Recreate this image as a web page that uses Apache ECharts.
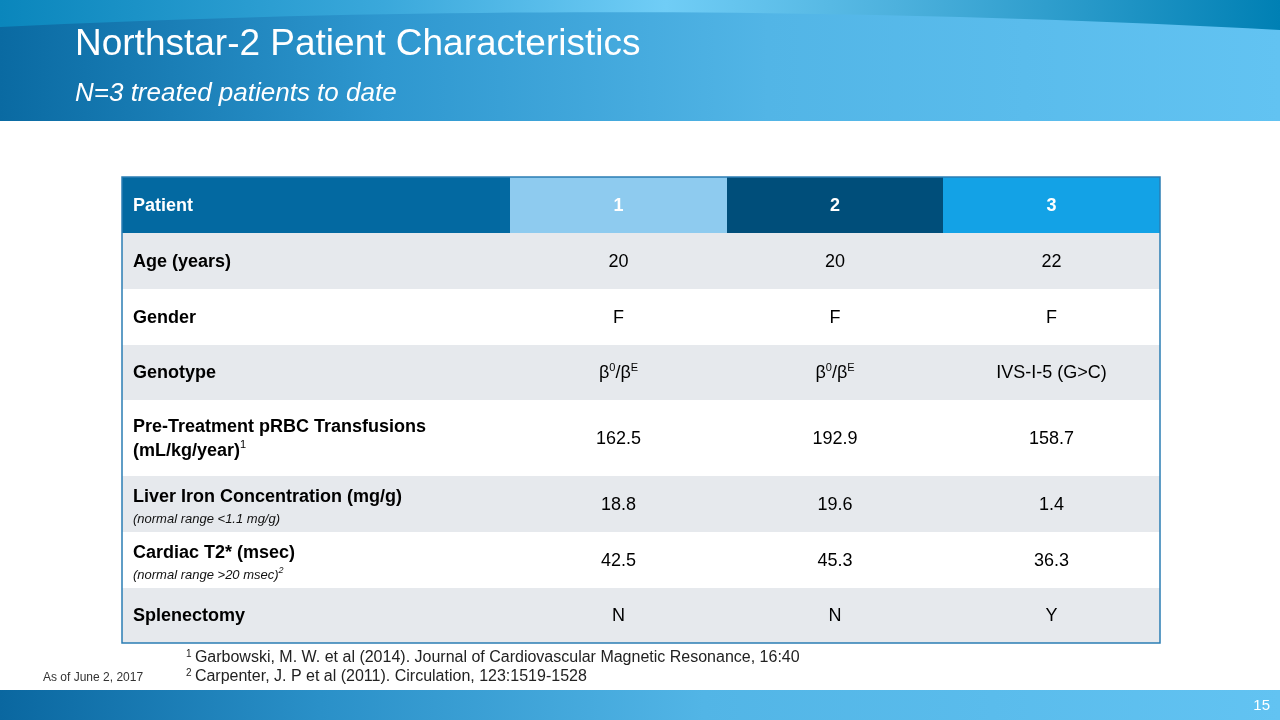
<!DOCTYPE html>
<html>
<head>
<meta charset="utf-8">
<script src="https://cdn.jsdelivr.net/npm/echarts@6/dist/echarts.min.js"></script>
<style>
html,body{margin:0;padding:0;background:#fff;}
#main{width:1280px;height:720px;}
</style>
</head>
<body>
<div id="main"></div>
<script>
// ---- data ----
var patients = ['1', '2', '3'];
var rowLabels = [
  'Age (years)',
  'Gender',
  'Genotype',
  'Pre-Treatment pRBC Transfusions (mL/kg/year)',
  'Liver Iron Concentration (mg/g)',
  'Cardiac T2* (msec)',
  'Splenectomy'
];
var rowNotes = ['', '', '', '', '(normal range <1.1 mg/g)', '(normal range >20 msec)', ''];
var ages = ['20', '20', '22'];
var genders = ['F', 'F', 'F'];
var genotypes = ['β0/βE', 'β0/βE', 'IVS-I-5 (G>C)'];
var transfusions = ['162.5', '192.9', '158.7'];
var liverIron = ['18.8', '19.6', '1.4'];
var cardiacT2 = ['42.5', '45.3', '36.3'];
var splenectomy = ['N', 'N', 'Y'];
var footnotes = [
  'Garbowski, M. W. et al (2014). Journal of Cardiovascular Magnetic Resonance, 16:40',
  'Carpenter, J. P et al (2011). Circulation, 123:1519-1528'
];

// ---- layout (sizes / styles) ----
var colWidths = [388, 217, 216, 217];
var rowHeights = [56, 56, 56, 55, 76, 56, 56, 55];
var headerFills = ['#0369a1', '#8ecbef', '#004e7a', '#13a2e6'];
var greyFill = '#e6e9ed';
var SANS = "'Liberation Sans', Arial, sans-serif";

function edges(arr) { var e = [0]; arr.forEach(function (w) { e.push(e[e.length - 1] + w); }); return e; }
var colE = edges(colWidths), rowE = edges(rowHeights);

function lin(stops) {
  return { type: 'linear', x: 0, y: 0, x2: 1, y2: 0, colorStops: stops };
}

function supify(s) {
  var m = s.match(/^β(\w)\/β(\w)$/);
  if (m) return '{v|β}{sup|' + m[1] + '}{v|/β}{sup|' + m[2] + '}';
  return '{v|' + s + '}';
}

var valueRows = [ages, genders, genotypes, transfusions, liverIron, cardiacT2, splenectomy];
var cells = [];
cells.push({ c: 0, r: 0, text: '{h|Patient}', fill: headerFills[0], left: true, dy: 1 });
patients.forEach(function (p, i) {
  cells.push({ c: i + 1, r: 0, text: '{h|' + p + '}', fill: headerFills[i + 1], dy: 1 });
});
rowLabels.forEach(function (lab, k) {
  var r = k + 1;
  var fill = (k % 2 === 0) ? greyFill : '#ffffff';
  var t;
  if (k === 3) {
    t = '{b|Pre-Treatment pRBC Transfusions}\n{b|(mL/kg/year)}{bsup|1}';
  } else if (rowNotes[k]) {
    t = '{b|' + lab + '}\n{n|' + rowNotes[k] + '}' + (k === 5 ? '{nsup|2}' : '');
  } else {
    t = '{b|' + lab + '}';
  }
  cells.push({ c: 0, r: r, text: t, fill: fill, left: true, dy: rowNotes[k] ? 3 : 1 });
  valueRows[k].forEach(function (v, i) {
    cells.push({ c: i + 1, r: r, text: supify(v), fill: fill, dy: 1 });
  });
});

var seriesData = cells.map(function (cell) {
  return [colE[cell.c], rowE[cell.r], colE[cell.c + 1], rowE[cell.r + 1]];
});

var rich = {
  h: { fontFamily: SANS, fontSize: 18, fontWeight: 'bold', fill: '#ffffff', lineHeight: 22 },
  b: { fontFamily: SANS, fontSize: 18, fontWeight: 'bold', fill: '#000000', lineHeight: 24 },
  bsup: { fontFamily: SANS, fontSize: 11, fill: '#000000', verticalAlign: 'top', lineHeight: 24 },
  n: { fontFamily: SANS, fontSize: 13, fontStyle: 'italic', fill: '#111111', lineHeight: 19 },
  nsup: { fontFamily: SANS, fontSize: 9, fontStyle: 'italic', fill: '#111111', verticalAlign: 'top', lineHeight: 19 },
  v: { fontFamily: SANS, fontSize: 18, fill: '#000000', lineHeight: 22 },
  sup: { fontFamily: SANS, fontSize: 11, fill: '#000000', verticalAlign: 'top', lineHeight: 22 }
};

var footRich = {
  s: { fontFamily: SANS, fontSize: 10, fill: '#222', verticalAlign: 'top', lineHeight: 18 },
  t: { fontFamily: SANS, fontSize: 16, fill: '#222', lineHeight: 18 }
};

// wave shape at top of header
var wavePts = [[0, 0], [1280, 0]];
for (var i = 0; i <= 40; i++) {
  var t = i / 40;
  var px = 1280 * (1 - t);
  var py = (1 - t) * (1 - t) * 30 + 2 * t * (1 - t) * (-4) + t * t * 27;
  wavePts.push([px, py]);
}

var chart = echarts.init(document.getElementById('main'), null, { renderer: 'canvas' });

var option = {
  animation: false,
  backgroundColor: '#ffffff',
  grid: { left: 122, top: 177, width: 1038, height: 466, containLabel: false },
  xAxis: { type: 'value', min: 0, max: colE[colE.length - 1], show: false },
  yAxis: { type: 'value', min: 0, max: rowE[rowE.length - 1], inverse: true, show: false },
  series: [{
    type: 'custom',
    coordinateSystem: 'cartesian2d',
    data: seriesData,
    renderItem: function (params, api) {
      var cell = cells[params.dataIndex];
      var p0 = api.coord([api.value(0), api.value(1)]);
      var p1 = api.coord([api.value(2), api.value(3)]);
      var x = p0[0], y = p0[1], w = p1[0] - p0[0], h = p1[1] - p0[1];
      return {
        type: 'group',
        children: [
          { type: 'rect', shape: { x: x, y: y, width: w, height: h }, style: { fill: cell.fill } },
          {
            type: 'text',
            x: cell.left ? x + 11 : x + w / 2,
            y: y + h / 2 + (cell.dy || 0),
            style: {
              text: cell.text,
              rich: rich,
              align: cell.left ? 'left' : 'center',
              verticalAlign: 'middle'
            }
          }
        ]
      };
    }
  }],
  graphic: [
    {
      type: 'rect', z: -10,
      shape: { x: 0, y: 0, width: 1280, height: 121 },
      style: {
        fill: lin([
          { offset: 0, color: '#0a6aa2' },
          { offset: 0.3, color: '#2e97cf' },
          { offset: 0.6, color: '#52b5e6' },
          { offset: 1, color: '#62c3f2' }
        ])
      }
    },
    {
      type: 'polygon', z: -9,
      shape: { points: wavePts },
      style: {
        fill: lin([
          { offset: 0, color: '#0a86bc' },
          { offset: 0.3, color: '#3aa8db' },
          { offset: 0.52, color: '#70cdf6' },
          { offset: 0.7, color: '#4db1dd' },
          { offset: 1, color: '#0080b4' }
        ])
      }
    },
    {
      type: 'text', x: 75, y: 45, z: 10,
      style: { text: 'Northstar-2 Patient Characteristics', fill: '#ffffff', font: '37px ' + SANS, verticalAlign: 'middle' }
    },
    {
      type: 'text', x: 75, y: 94, z: 10,
      style: { text: 'N=3 treated patients to date', fill: '#ffffff', font: 'italic 26px ' + SANS, verticalAlign: 'middle' }
    },
    {
      type: 'rect', z: 20, silent: true,
      shape: { x: 122, y: 177, width: 1038, height: 466 },
      style: { fill: 'none', stroke: '#2b7db4', lineWidth: 1.5 }
    },
    {
      type: 'text', x: 186, y: 658, z: 10,
      style: { text: '{s|1} {t|' + footnotes[0] + '}', rich: footRich, verticalAlign: 'middle' }
    },
    {
      type: 'text', x: 186, y: 677, z: 10,
      style: { text: '{s|2} {t|' + footnotes[1] + '}', rich: footRich, verticalAlign: 'middle' }
    },
    {
      type: 'text', x: 43, y: 678, z: 10,
      style: { text: 'As of June 2, 2017', fill: '#333333', font: '12px ' + SANS, verticalAlign: 'middle' }
    },
    {
      type: 'rect', z: -10,
      shape: { x: 0, y: 690, width: 1280, height: 30 },
      style: {
        fill: lin([
          { offset: 0, color: '#0a67a0' },
          { offset: 0.25, color: '#2a90c8' },
          { offset: 0.55, color: '#52b5e6' },
          { offset: 1, color: '#62c3f2' }
        ])
      }
    },
    {
      type: 'text', x: 1270, y: 706, z: 10,
      style: { text: '15', fill: '#ffffff', font: '15px ' + SANS, align: 'right', verticalAlign: 'middle' }
    }
  ]
};
chart.setOption(option);
</script>
</body>
</html>
